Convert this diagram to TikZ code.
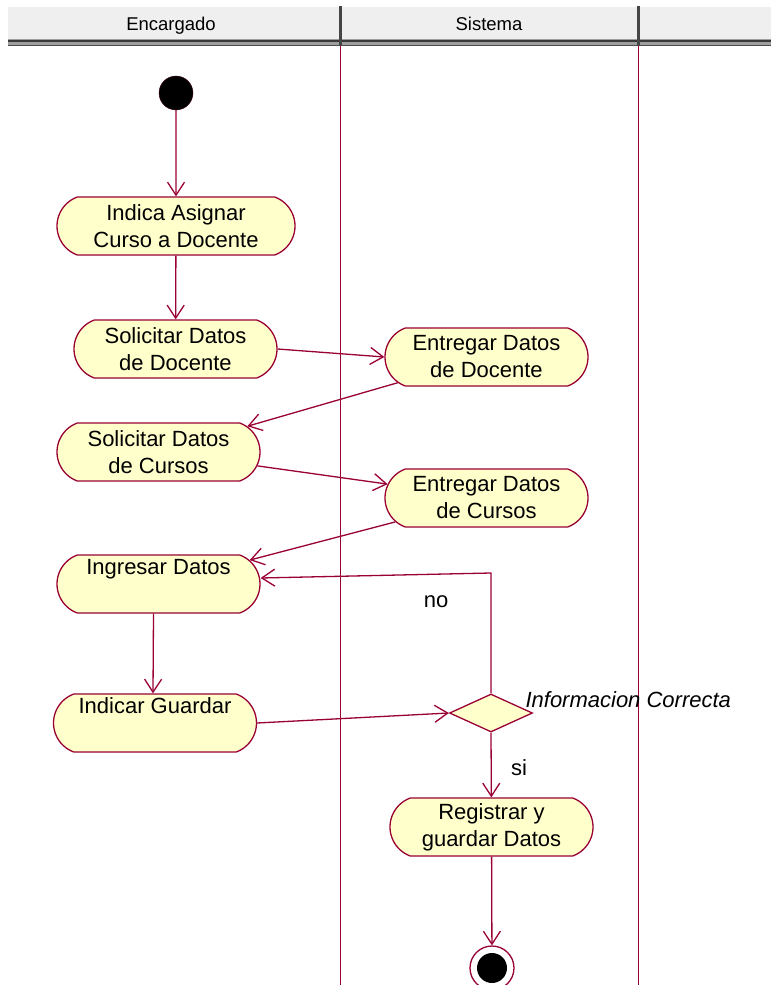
\documentclass[tikz,border=0pt]{standalone}
\usepackage{fontspec}
\setmainfont{Liberation Sans}
\usetikzlibrary{arrows.meta,shapes.misc,shapes.geometric}

\definecolor{umlred}{HTML}{990033}
\definecolor{umlfill}{HTML}{FFFFCC}
\definecolor{hdrgray}{HTML}{EFEFEF}
\newcommand{\actfont}{\fontsize{22}{27}\selectfont}
\newcommand{\hdrfont}{\fontsize{18.5}{20}\selectfont}

\begin{document}
\begin{tikzpicture}[x=1pt, y=-1pt,
    activity/.style={rounded rectangle, rounded rectangle arc length=140,
        draw=umlred, line width=1.3pt, fill=umlfill, minimum width=207pt,
        minimum height=58pt, inner sep=2pt, font=\actfont, align=center},
    decision/.style={diamond, draw=umlred, line width=1.3pt, fill=umlfill,
        minimum width=83pt, minimum height=38pt, inner sep=0pt},
    edge/.style={draw=umlred, line width=1.3pt,
        -{Straight Barb[length=13pt, width=17pt]}},
    lane/.style={draw=umlred, line width=1.4pt},
    flowlabel/.style={font=\actfont}
]
    \useasboundingbox (0,0) rectangle (771,985);
    % swimlane header
    \fill[hdrgray] (8,7) rectangle (771,39);
    \fill[gray!75] (8,39) rectangle (771,46);
    \draw[gray!45!black, line width=1.2pt] (8,41) -- (771,41);
    \draw[gray!60!black, line width=1pt] (8,45) -- (771,45);
    \fill[gray!55!black] (339,6) rectangle (342,46);
    \fill[gray!55!black] (637,6) rectangle (640,46);
    \node[font=\hdrfont, anchor=base] (enc) at (171,30) {Encargado};
    \node[font=\hdrfont, anchor=base] (sis) at (489,30) {Sistema};
    \draw[lane] (340.5,46) -- (340.5,985);
    \draw[lane] (638.5,46) -- (638.5,985);

    % nodes
    \node[circle, fill=black, draw=umlred!40!black, minimum size=34pt, inner sep=0pt] (start) at (176,93) {};
    \node[activity, minimum width=242pt] (indica) at (176,226) {Indica Asignar\\Curso a Docente};
    \node[activity] (soldoc) at (175.5,349) {Solicitar Datos\\de Docente};
    \node[activity] (entdoc) at (486.5,357) {Entregar Datos\\de Docente};
    \node[activity] (solcur) at (158.5,452) {Solicitar Datos\\de Cursos};
    \node[activity] (entcur) at (486.5,498) {Entregar Datos\\de Cursos};
    \node[activity] (ingresar) at (158.5,584) {Ingresar Datos\\\strut};
    \node[activity] (guardar) at (155,723) {Indicar Guardar\\\strut};
    \node[decision] (dec) at (491,713) {};
    \node[font=\actfont\itshape, anchor=west] (info) at (522,700) {Informacion Correcta};
    \node[activity] (registrar) at (491.5,827) {Registrar y\\guardar Datos};
    \node[circle, draw=umlred, line width=1.3pt, fill=white, minimum size=44pt, inner sep=0pt] (endout) at (492,968) {};
    \node[circle, fill=black, minimum size=30pt, inner sep=0pt] (endin) at (492,968) {};
    \coordinate (nocorner) at (491,573);

    % flows
    \draw[edge] (start) -- (indica);
    \draw[edge] (indica) -- (soldoc);
    \draw[edge] (soldoc.east) -- (entdoc.west);
    \draw[edge] (entdoc) -- (solcur);
    \draw[edge] (solcur) -- (entcur);
    \draw[edge] (entcur) -- (ingresar);
    \draw[edge] ([xshift=-5pt]ingresar.south) -- ([xshift=-2pt]guardar.north);
    \draw[edge] (guardar.east) -- (dec.west);
    \draw[edge] (dec.north) -- (nocorner) -- ([yshift=6pt]ingresar.east);
    \draw[edge] (dec.south) -- (registrar);
    \draw[edge] (registrar) -- (endout);
    \node[flowlabel] (no) at (436,602) {no};
    \node[flowlabel] (si) at (519,768) {si};
\end{tikzpicture}
\end{document}
